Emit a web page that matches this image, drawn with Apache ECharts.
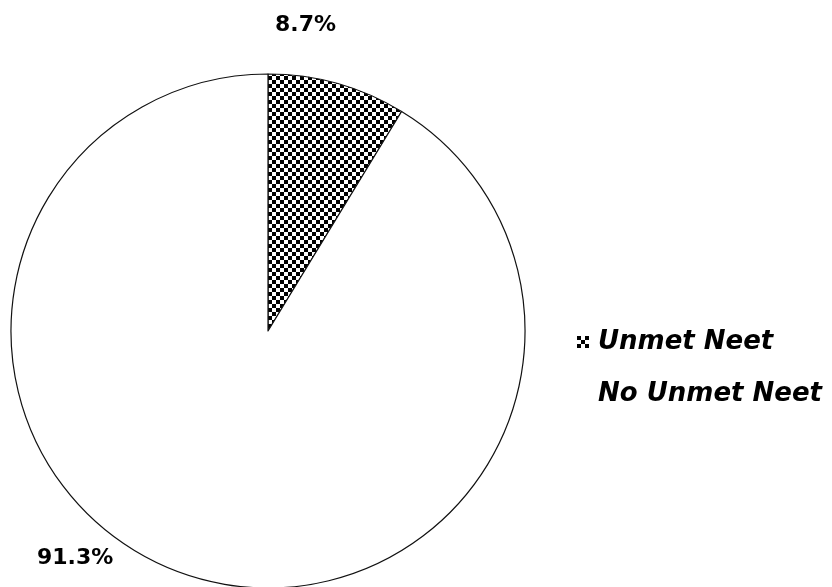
<!DOCTYPE html>
<html>
<head>
<meta charset="utf-8">
<script src="https://cdn.jsdelivr.net/npm/echarts@6/dist/echarts.min.js"></script>
<style>
html,body{margin:0;padding:0;background:#fff;}
#chart{width:832px;height:587px;}
</style>
</head>
<body>
<div id="chart"></div>
<script>
var categories = ['Unmet Neet', 'No Unmet Neet'];
var values = [8.7, 91.3];
var labelTexts = ['8.7%', '91.3%'];

var pc = document.createElement('canvas');
pc.width = 8; pc.height = 8;
var ctx = pc.getContext('2d');
ctx.fillStyle = '#ffffff'; ctx.fillRect(0, 0, 8, 8);
ctx.fillStyle = '#000000';
ctx.fillRect(0, 0, 4, 4);
ctx.fillRect(4, 4, 4, 4);
var checker = { image: pc, repeat: 'repeat' };

var colors = [checker, '#ffffff'];
var labelPos = [
  { x: 275, y: 25 },
  { x: 37, y: 558 }
];

var chart = echarts.init(document.getElementById('chart'));
chart.setOption({
  animation: false,
  backgroundColor: '#ffffff',
  legend: {
    orient: 'vertical',
    left: 572,
    top: 324,
    itemWidth: 12,
    itemHeight: 12,
    itemGap: 26,
    icon: 'rect',
    itemStyle: { borderWidth: 0 },
    textStyle: {
      fontFamily: 'DejaVu Sans',
      fontSize: 26,
      fontWeight: 'bold',
      fontStyle: 'italic',
      color: '#000',
      lineHeight: 26,
      padding: [0, 0, 0, 4]
    },
    data: categories
  },
  series: [{
    type: 'pie',
    center: [268, 331],
    radius: [0, 257],
    startAngle: 90,
    clockwise: true,
    silent: true,
    itemStyle: { borderColor: '#111', borderWidth: 1.2 },
    label: {
      show: true,
      position: 'outside',
      fontFamily: 'DejaVu Sans',
      fontSize: 22,
      fontWeight: 'bold',
      color: '#000',
      formatter: function (p) { return labelTexts[p.dataIndex]; }
    },
    labelLine: { show: false },
    labelLayout: function (p) {
      var pos = labelPos[p.dataIndex];
      return { x: pos.x, y: pos.y, align: 'left', verticalAlign: 'middle' };
    },
    data: categories.map(function (c, i) {
      return { name: c, value: values[i], itemStyle: { color: colors[i] } };
    })
  }]
});
</script>
</body>
</html>
